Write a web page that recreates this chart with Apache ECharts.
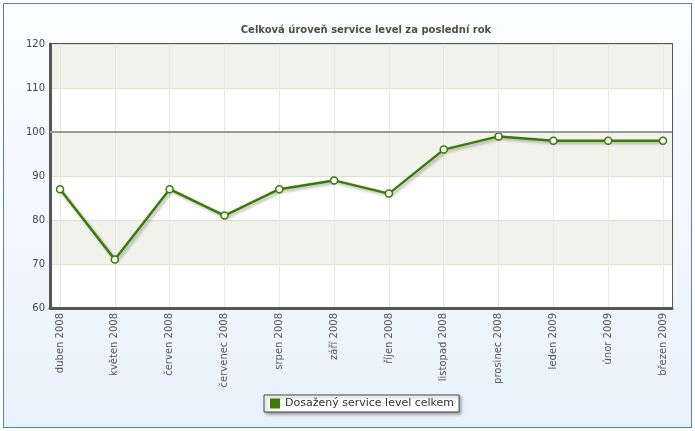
<!DOCTYPE html>
<html>
<head>
<meta charset="utf-8">
<script src="https://cdn.jsdelivr.net/npm/echarts@6/dist/echarts.min.js"></script>
<style>
    html, body { margin: 0; padding: 0; background: #fff; }
    #frame {
        position: absolute; left: 3px; top: 3px; width: 687px; height: 423px;
        border: 1px solid #5b7fa6;
        background: linear-gradient(to bottom, #fcfdff 0%, #f1f7fe 50%, #e8f2fc 100%);
    }
    #chart { position: absolute; left: 0; top: 0; width: 695px; height: 431px; }
</style>
</head>
<body>
<div id="frame"></div>
<div id="chart"></div>
<script>
const months = ["duben 2008", "květen 2008", "červen 2008", "červenec 2008", "srpen 2008", "září 2008",
    "říjen 2008", "listopad 2008", "prosinec 2008", "leden 2009", "únor 2009", "březen 2009"];
const serviceLevel = [87, 71, 87, 81, 87, 89, 86, 96, 99, 98, 98, 98];
const seriesName = "Dosažený service level celkem";
const targetLevel = 100;

const font = "DejaVu Sans, Verdana, sans-serif";
const green = "#3b7a03";

const chart = echarts.init(document.getElementById("chart"));
const option = {
    backgroundColor: "transparent",
    animation: false,
    title: {
        text: "Celková úroveň service level za poslední rok",
        left: 361, top: 20, textAlign: "center",
        textStyle: { fontFamily: font, fontSize: 10, fontWeight: "bold", color: "#4f4f3f" }
    },
    legend: {
        data: [{ name: seriesName, icon: "rect", itemStyle: { color: green, borderWidth: 0 } }],
        left: 264, top: 395,
        itemWidth: 10, itemHeight: 10, itemGap: 5,
        padding: [3, 5, 3, 6],
        backgroundColor: "#fff",
        borderColor: "#444", borderWidth: 1,
        shadowColor: "rgba(0,0,0,0.35)", shadowBlur: 3, shadowOffsetX: 2, shadowOffsetY: 2,
        textStyle: { fontFamily: font, fontSize: 11, color: "#333" }
    },
    grid: [
        { left: 50, right: 23, top: 44, bottom: 123, show: true, borderColor: "#555", borderWidth: 2, backgroundColor: "#fff" },
        { left: 60, right: 32, top: 44, bottom: 123 }
    ],
    xAxis: [
        {
            gridIndex: 0, type: "value", min: 0, max: 1,
            axisLine: { show: true, lineStyle: { color: "#555", width: 3 } },
            axisTick: { show: false }, axisLabel: { show: false }, splitLine: { show: false }
        },
        {
            gridIndex: 1, type: "category", data: months, boundaryGap: false,
            axisLine: { show: false }, axisTick: { show: false },
            axisLabel: { rotate: 90, margin: 5, fontFamily: font, fontSize: 10, color: "#555", interval: 0 },
            splitLine: { show: true, lineStyle: { color: "#e8e8dc", width: 1 } }
        }
    ],
    yAxis: [
        {
            gridIndex: 0, type: "value", min: 60, max: 120, interval: 10,
            axisLine: { show: true, lineStyle: { color: "#555", width: 3 } },
            axisTick: { show: false },
            axisLabel: { margin: 5, fontFamily: font, fontSize: 10, color: "#444" },
            splitLine: { show: true, lineStyle: { color: "#dfdfd0", width: 1 } },
            splitArea: { show: true, areaStyle: { color: ["#ffffff", "#f2f2ec"] } }
        },
        { gridIndex: 1, type: "value", min: 60, max: 120, show: false }
    ],
    series: [
        {
            type: "line", xAxisIndex: 0, yAxisIndex: 0, data: [], silent: true,
            markLine: {
                silent: true, symbol: "none", label: { show: false },
                lineStyle: { color: "#999", width: 2, type: "solid" },
                data: [{ yAxis: targetLevel }]
            }
        },
        {
            name: seriesName, type: "line", xAxisIndex: 1, yAxisIndex: 1,
            data: serviceLevel,
            symbol: "circle", symbolSize: 7,
            lineStyle: {
                color: green, width: 2.5,
                shadowColor: "rgba(0,0,0,0.3)", shadowBlur: 3, shadowOffsetX: 2, shadowOffsetY: 2
            },
            itemStyle: { color: "#fff", borderColor: green, borderWidth: 1.5 }
        }
    ]
};
chart.setOption(option);
window.addEventListener("resize", () => chart.resize());
</script>
</body>
</html>
